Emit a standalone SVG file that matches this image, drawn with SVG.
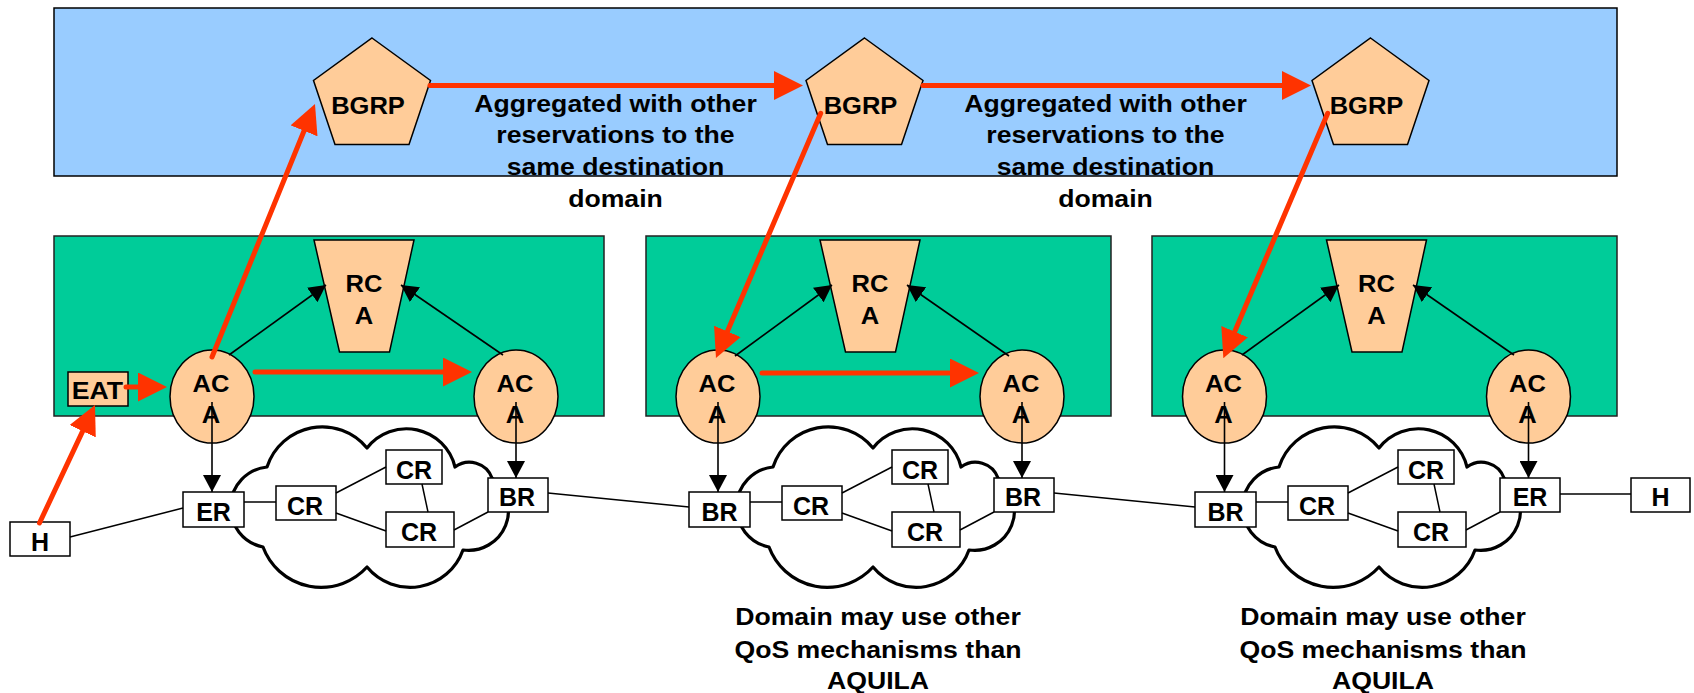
<svg xmlns="http://www.w3.org/2000/svg" xmlns:xlink="http://www.w3.org/1999/xlink" width="1694" height="693" viewBox="0 0 1694 693">
  <style>
    .t { font-family: "Liberation Sans", Arial, sans-serif; font-weight: bold; fill: #000; text-anchor: middle; }
    .wide { transform-box: fill-box; transform-origin: center; transform: scaleX(1.11); }
    .lbl { font-size: 23px; }
    .eat { font-size: 24px; }
    .note { font-size: 24px; }
    .rt { font-size: 25px; }
    .peach { fill: #FFCC99; stroke: #000; stroke-width: 1.5; }
    .box { fill: #FFFFFF; stroke: #000; stroke-width: 1.5; }
    .link { stroke: #000; stroke-width: 1.5; fill: none; }
    .sig { stroke: #000; stroke-width: 1.6; fill: none; marker-end: url(#blackHead); }
    .red { stroke: #FF3300; stroke-width: 5; stroke-linecap: round; fill: none; marker-end: url(#redHead); }
    .cloud { fill: #FFFFFF; stroke: #000; stroke-width: 3.2; stroke-linejoin: round; }
  </style>
  <defs>
    <marker id="redHead" markerUnits="userSpaceOnUse" viewBox="0 0 29 29" markerWidth="29" markerHeight="29" refX="2" refY="14.5" orient="auto">
      <path d="M0,0 L29,14.5 L0,29 Z" fill="#FF3300"/>
    </marker>
    <marker id="blackHead" markerUnits="userSpaceOnUse" viewBox="0 0 17 18" markerWidth="17" markerHeight="18" refX="17" refY="9" orient="auto">
      <path d="M0,0 L17,9 L0,18 Z" fill="#000"/>
    </marker>
    <path id="cloud" d="M267,467 A58,58 0 0 1 367,448 A50,50 0 0 1 455,467 A24,24 0 0 1 492,478 A40,40 0 0 1 463,550 A56,56 0 0 1 367,567 A62,62 0 0 1 263,547 A40.5,40.5 0 0 1 267,467 Z"/>
  </defs>

  <!-- inter-domain signalling layer -->
  <rect id="bgrp-layer" x="54" y="8" width="1563" height="168" fill="#99CCFF" stroke="#000" stroke-width="1.5"/>

  <!-- per-domain AQUILA control planes -->
  <rect id="domain1" x="54" y="236" width="550" height="180" fill="#00CC99" stroke="#222" stroke-width="1.5"/>
  <rect id="domain2" x="646" y="236" width="465" height="180" fill="#00CC99" stroke="#222" stroke-width="1.5"/>
  <rect id="domain3" x="1152" y="236" width="465" height="180" fill="#00CC99" stroke="#222" stroke-width="1.5"/>

  <!-- network clouds -->
  <g id="clouds">
    <use xlink:href="#cloud" href="#cloud" class="cloud"/>
    <use xlink:href="#cloud" href="#cloud" class="cloud" transform="translate(506,0)"/>
    <use xlink:href="#cloud" href="#cloud" class="cloud" transform="translate(1012,0)"/>
  </g>

  <!-- BGRP agents -->
  <g id="bgrp1">
    <polygon class="peach" points="372,38 430.5,80.5 409,144.5 335,144.5 313.5,80.5"/>
    <text class="t lbl wide" x="368" y="114">BGRP</text>
  </g>
  <g id="bgrp2">
    <polygon class="peach" points="864.5,38 923,80.5 901.5,144.5 827.5,144.5 806,80.5"/>
    <text class="t lbl wide" x="860.5" y="114">BGRP</text>
  </g>
  <g id="bgrp3">
    <polygon class="peach" points="1370.5,38 1429,80.5 1407.5,144.5 1333.5,144.5 1312,80.5"/>
    <text class="t lbl wide" x="1366.5" y="114">BGRP</text>
  </g>

  <!-- resource control agents -->
  <g id="rca1">
    <polygon class="peach" points="314,240 414,240 389.5,352 339.5,352"/>
    <text class="t lbl wide" x="364" y="292">RC</text>
    <text class="t lbl wide" x="364" y="324">A</text>
  </g>
  <g id="rca2">
    <polygon class="peach" points="820,240 920,240 895.5,352 845.5,352"/>
    <text class="t lbl wide" x="870" y="292">RC</text>
    <text class="t lbl wide" x="870" y="324">A</text>
  </g>
  <g id="rca3">
    <polygon class="peach" points="1326.5,240 1426.5,240 1402,352 1352,352"/>
    <text class="t lbl wide" x="1376.5" y="292">RC</text>
    <text class="t lbl wide" x="1376.5" y="324">A</text>
  </g>

  <!-- admission control agents -->
  <g id="aca1">
    <ellipse class="peach" cx="212" cy="396.5" rx="42" ry="46.5"/>
    <text class="t lbl wide" x="211" y="392">AC</text>
    <text class="t lbl wide" x="211" y="423">A</text>
  </g>
  <g id="aca2">
    <ellipse class="peach" cx="516" cy="396.5" rx="42" ry="46.5"/>
    <text class="t lbl wide" x="515" y="392">AC</text>
    <text class="t lbl wide" x="515" y="423">A</text>
  </g>
  <g id="aca3">
    <ellipse class="peach" cx="718" cy="396.5" rx="42" ry="46.5"/>
    <text class="t lbl wide" x="717" y="392">AC</text>
    <text class="t lbl wide" x="717" y="423">A</text>
  </g>
  <g id="aca4">
    <ellipse class="peach" cx="1022" cy="396.5" rx="42" ry="46.5"/>
    <text class="t lbl wide" x="1021" y="392">AC</text>
    <text class="t lbl wide" x="1021" y="423">A</text>
  </g>
  <g id="aca5">
    <ellipse class="peach" cx="1224.5" cy="396.5" rx="42" ry="46.5"/>
    <text class="t lbl wide" x="1223.5" y="392">AC</text>
    <text class="t lbl wide" x="1223.5" y="423">A</text>
  </g>
  <g id="aca6">
    <ellipse class="peach" cx="1528.5" cy="396.5" rx="42" ry="46.5"/>
    <text class="t lbl wide" x="1527.5" y="392">AC</text>
    <text class="t lbl wide" x="1527.5" y="423">A</text>
  </g>

  <!-- end-point admission control -->
  <g id="eat">
    <rect class="peach" x="68" y="372" width="60" height="34"/>
    <text class="t eat wide" x="97.5" y="399.5">EAT</text>
  </g>

  <!-- routers and hosts -->
  <g id="h-left"><rect class="box" x="10" y="522" width="60" height="34"/><text class="t rt" x="40" y="551">H</text></g>
  <g id="er1"><rect class="box" x="183" y="492" width="61" height="35"/><text class="t rt" x="213.5" y="521">ER</text></g>
  <g id="cr1"><rect class="box" x="276" y="486" width="60" height="34"/><text class="t rt" x="305" y="514.5">CR</text></g>
  <g id="cr2"><rect class="box" x="386" y="450" width="56" height="34"/><text class="t rt" x="414" y="478.5">CR</text></g>
  <g id="cr3"><rect class="box" x="386" y="512" width="68" height="35"/><text class="t rt" x="419" y="540.5">CR</text></g>
  <g id="br1"><rect class="box" x="488" y="478" width="60" height="34"/><text class="t rt" x="517" y="506">BR</text></g>

  <g id="br2"><rect class="box" x="689" y="492" width="61" height="35"/><text class="t rt" x="719.5" y="521">BR</text></g>
  <g id="cr4"><rect class="box" x="782" y="486" width="60" height="34"/><text class="t rt" x="811" y="514.5">CR</text></g>
  <g id="cr5"><rect class="box" x="892" y="450" width="56" height="34"/><text class="t rt" x="920" y="478.5">CR</text></g>
  <g id="cr6"><rect class="box" x="892" y="512" width="68" height="35"/><text class="t rt" x="925" y="540.5">CR</text></g>
  <g id="br3"><rect class="box" x="994" y="478" width="60" height="34"/><text class="t rt" x="1023" y="506">BR</text></g>

  <g id="br4"><rect class="box" x="1195" y="492" width="61" height="35"/><text class="t rt" x="1225.5" y="521">BR</text></g>
  <g id="cr7"><rect class="box" x="1288" y="486" width="60" height="34"/><text class="t rt" x="1317" y="514.5">CR</text></g>
  <g id="cr8"><rect class="box" x="1398" y="450" width="56" height="34"/><text class="t rt" x="1426" y="478.5">CR</text></g>
  <g id="cr9"><rect class="box" x="1398" y="512" width="68" height="35"/><text class="t rt" x="1431" y="540.5">CR</text></g>
  <g id="er2"><rect class="box" x="1500" y="478" width="60" height="34"/><text class="t rt" x="1530" y="506">ER</text></g>
  <g id="h-right"><rect class="box" x="1631" y="478" width="59" height="34"/><text class="t rt" x="1660.5" y="506">H</text></g>

  <!-- explanatory notes -->
  <g id="note-aggregation-1">
    <text class="t note wide" x="615.5" y="112">Aggregated with other</text>
    <text class="t note wide" x="615.5" y="143.5">reservations to the</text>
    <text class="t note wide" x="615.5" y="175">same destination</text>
    <text class="t note wide" x="615.5" y="207.5">domain</text>
  </g>
  <g id="note-aggregation-2">
    <text class="t note wide" x="1105.5" y="112">Aggregated with other</text>
    <text class="t note wide" x="1105.5" y="143.5">reservations to the</text>
    <text class="t note wide" x="1105.5" y="175">same destination</text>
    <text class="t note wide" x="1105.5" y="207.5">domain</text>
  </g>
  <g id="note-qos-1">
    <text class="t note wide" x="878" y="625.5">Domain may use other</text>
    <text class="t note wide" x="878" y="658">QoS mechanisms than</text>
    <text class="t note wide" x="878" y="689">AQUILA</text>
  </g>
  <g id="note-qos-2">
    <text class="t note wide" x="1383" y="625.5">Domain may use other</text>
    <text class="t note wide" x="1383" y="658">QoS mechanisms than</text>
    <text class="t note wide" x="1383" y="689">AQUILA</text>
  </g>

  <!-- connectors -->
  <g id="connectors">
    <!-- physical links -->
    <line class="link" x1="70" y1="537" x2="183" y2="508"/>
    <line class="link" x1="244" y1="502" x2="276" y2="502"/>
    <line class="link" x1="336" y1="493" x2="386" y2="467"/>
    <line class="link" x1="336" y1="513" x2="386" y2="531"/>
    <line class="link" x1="422" y1="484" x2="428" y2="512"/>
    <line class="link" x1="454" y1="530" x2="488" y2="512"/>
    <line class="link" x1="548" y1="493" x2="689" y2="507"/>
    <line class="link" x1="750" y1="502" x2="782" y2="502"/>
    <line class="link" x1="842" y1="493" x2="892" y2="467"/>
    <line class="link" x1="842" y1="513" x2="892" y2="531"/>
    <line class="link" x1="928" y1="484" x2="934" y2="512"/>
    <line class="link" x1="960" y1="530" x2="994" y2="512"/>
    <line class="link" x1="1054" y1="493" x2="1195" y2="507"/>
    <line class="link" x1="1256" y1="502" x2="1288" y2="502"/>
    <line class="link" x1="1348" y1="493" x2="1398" y2="467"/>
    <line class="link" x1="1348" y1="513" x2="1398" y2="531"/>
    <line class="link" x1="1434" y1="484" x2="1440" y2="512"/>
    <line class="link" x1="1466" y1="530" x2="1500" y2="512"/>
    <line class="link" x1="1560" y1="494" x2="1631" y2="494"/>

    <!-- ACA to RCA -->
    <line class="sig" x1="229" y1="355" x2="326" y2="285"/>
    <line class="sig" x1="503" y1="355" x2="401" y2="285"/>
    <line class="sig" x1="735" y1="356" x2="832" y2="285"/>
    <line class="sig" x1="1009" y1="356" x2="907" y2="285"/>
    <line class="sig" x1="1242" y1="355" x2="1339" y2="285"/>
    <line class="sig" x1="1514" y1="355" x2="1413" y2="285"/>

    <!-- ACA to edge / border routers -->
    <line class="sig" x1="212" y1="402" x2="212" y2="492"/>
    <line class="sig" x1="516" y1="402" x2="516" y2="478"/>
    <line class="sig" x1="718" y1="402" x2="718" y2="492"/>
    <line class="sig" x1="1022" y1="402" x2="1022" y2="478"/>
    <line class="sig" x1="1224.5" y1="402" x2="1224.5" y2="492"/>
    <line class="sig" x1="1528.5" y1="402" x2="1528.5" y2="478"/>

    <!-- reservation signalling path -->
    <line class="red" x1="39.5" y1="523" x2="83.5" y2="429.4"/>
    <line class="red" x1="126" y1="387" x2="140" y2="387"/>
    <line class="red" x1="212" y1="357" x2="304.8" y2="129"/>
    <line class="red" x1="255" y1="372" x2="445" y2="372"/>
    <line class="red" x1="430" y1="85.5" x2="776" y2="85.5"/>
    <line class="red" x1="923" y1="85.5" x2="1284" y2="85.5"/>
    <line class="red" x1="820.7" y1="113.3" x2="726.6" y2="333.2"/>
    <line class="red" x1="1327.7" y1="113.3" x2="1233.9" y2="333.5"/>
    <line class="red" x1="762" y1="373" x2="952" y2="373"/>
  </g>
</svg>
